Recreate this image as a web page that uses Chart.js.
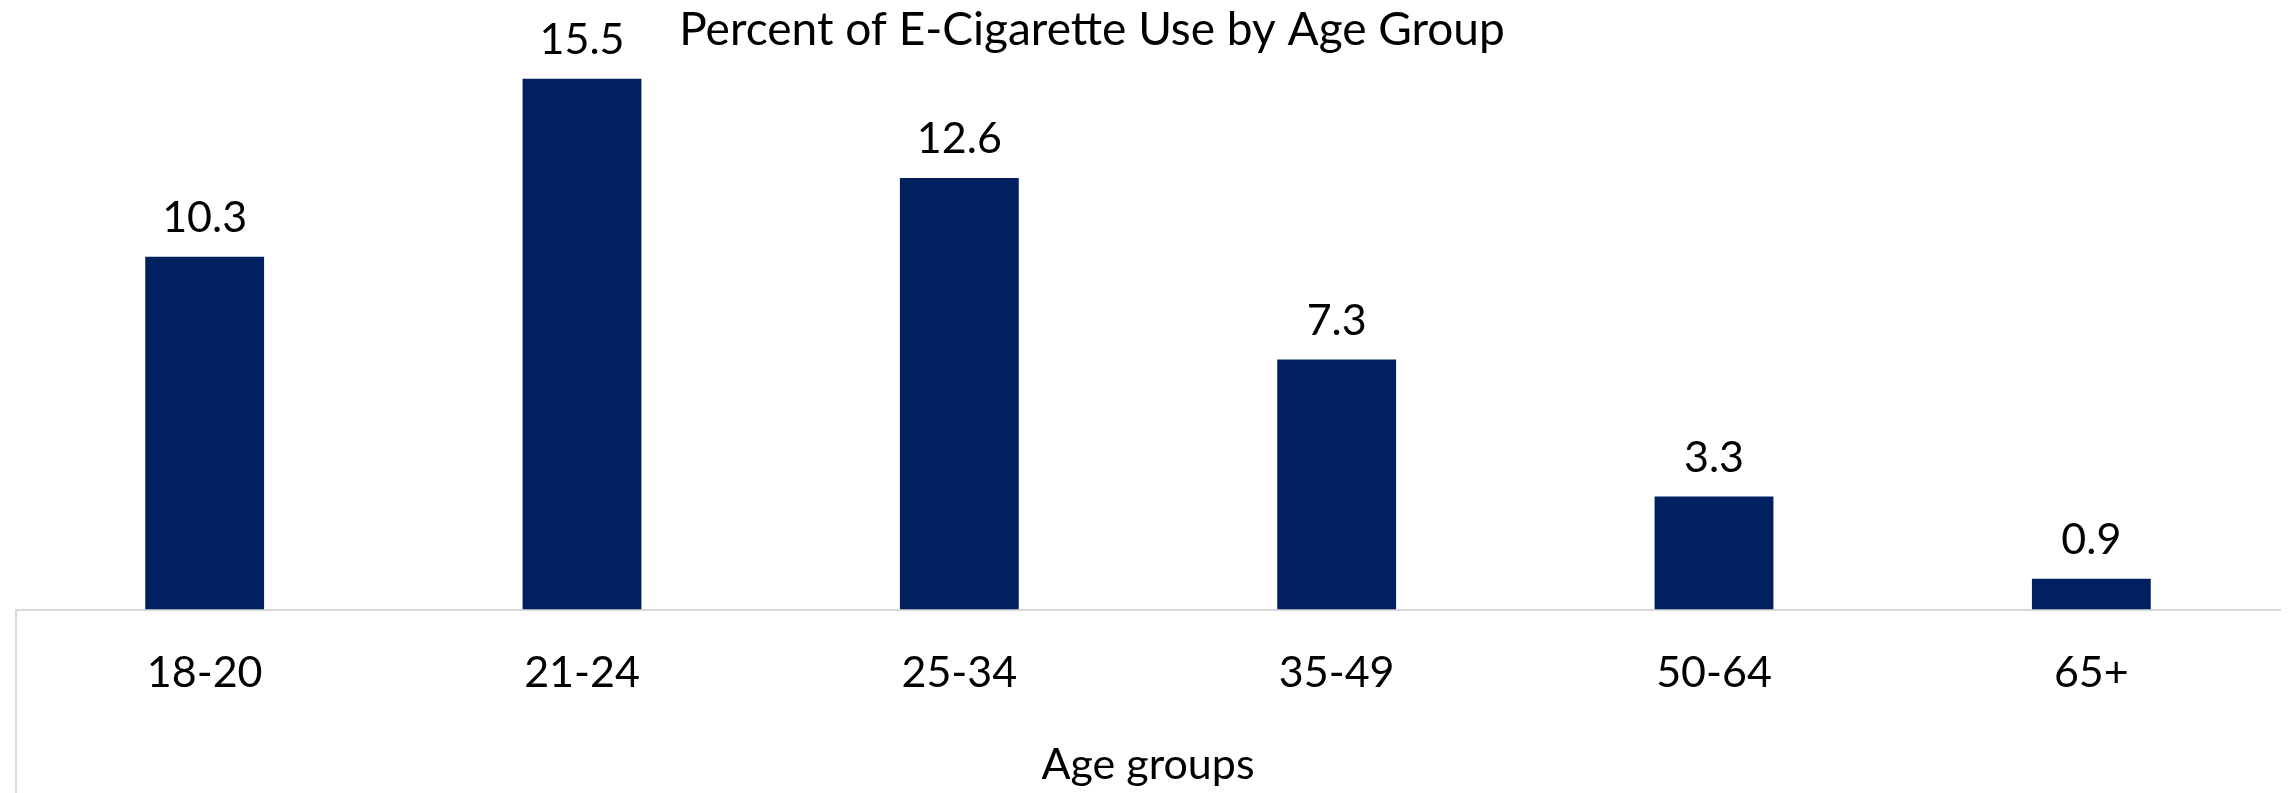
<!DOCTYPE html>
<html>
<head>
<meta charset="utf-8">
<script src="https://cdn.jsdelivr.net/npm/chart.js@4/dist/chart.umd.min.js"></script>
<style>
  html, body { margin: 0; padding: 0; background: #ffffff; }
  #wrap { width: 2293px; height: 793px; position: relative; }
</style>
</head>
<body>
<div id="wrap"><canvas id="c"></canvas></div>
<script>
const categories = ["18-20", "21-24", "25-34", "35-49", "50-64", "65+"];
const percentValues = [10.3, 15.5, 12.6, 7.3, 3.3, 0.9];
const chartTitle = "Percent of E-Cigarette Use by Age Group";
const xAxisTitle = "Age groups";

const FONT = "Lato";
const FS = 43;
const TITLE_FS = 46;

const overlayPlugin = {
  id: 'overlay',
  afterDatasetsDraw(chart) {
    const ctx = chart.ctx;
    const meta = chart.getDatasetMeta(0);
    ctx.save();
    ctx.font = FS + "px " + FONT;
    ctx.fillStyle = "#000000";
    ctx.textAlign = "center";
    ctx.textBaseline = "alphabetic";
    meta.data.forEach((bar, i) => {
      ctx.fillText(String(chart.data.datasets[0].data[i]), bar.x, bar.y - 25);
    });
    // title
    ctx.font = TITLE_FS + "px " + FONT;
    ctx.fillText(chartTitle, 1092, 45);
    // left vertical line below axis
    const a = chart.chartArea;
    ctx.strokeStyle = "#d9d9d9";
    ctx.lineWidth = 2;
    ctx.beginPath();
    ctx.moveTo(a.left, a.bottom);
    ctx.lineTo(a.left, chart.height);
    ctx.stroke();
    ctx.restore();
  }
};

new Chart(document.getElementById('c'), {
  type: 'bar',
  data: {
    labels: categories,
    datasets: [{
      data: percentValues,
      backgroundColor: '#002060',
      borderWidth: 0,
      categoryPercentage: 1.0,
      barPercentage: 0.315
    }]
  },
  options: {
    responsive: true,
    maintainAspectRatio: false,
    animation: false,
    devicePixelRatio: 1,
    layout: { padding: { left: 16, right: 13, top: 0, bottom: 0 } },
    plugins: {
      legend: { display: false },
      tooltip: { enabled: false },
      title: { display: false }
    },
    scales: {
      x: {
        afterFit(scale) { scale.height = 183.5; },
        grid: { display: true, drawOnChartArea: false, drawTicks: false },
        border: { display: true, color: '#d9d9d9', width: 2 },
        ticks: { color: '#000000', font: { family: FONT, size: FS }, padding: 38 },
        title: { display: true, text: xAxisTitle, color: '#000000', font: { family: FONT, size: FS }, padding: { top: 0, bottom: 2 } }
      },
      y: {
        display: false,
        min: 0,
        max: 17.8
      }
    }
  },
  plugins: [overlayPlugin]
});
</script>
</body>
</html>
